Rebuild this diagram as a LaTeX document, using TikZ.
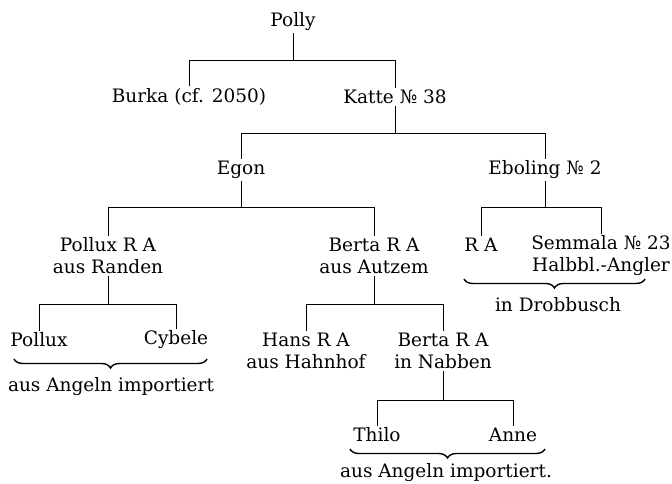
\documentclass[tikz,border=0pt]{standalone}
\usepackage{fontspec}
\setmainfont{DejaVu Serif}
\usetikzlibrary{decorations.pathreplacing}

\begin{document}
\begin{tikzpicture}[
    x=1pt, y=-1pt,
    every node/.style={font=\fontsize{18.5}{22}\selectfont, inner sep=2pt},
    dog/.style={align=center},
    note/.style={align=center},
    conn/.style={line width=0.8pt},
    brace/.style={decorate, decoration={brace, mirror, amplitude=9pt}, line width=1.4pt}
]
\useasboundingbox (0,0) rectangle (672,484);

% Bar heights of the families
\coordinate (bar1) at (0,60);
\coordinate (bar2) at (0,133);
\coordinate (bar3) at (0,207);
\coordinate (bar4) at (0,304);
\coordinate (bar5) at (0,400);

% Dogs
\node[dog] (polly) at (293,22) {Polly};
\node[dog] (burka) at (189,97) {Burka (cf. 2050)};
\node[dog] (katte) at (395,97) {Katte № 38};
\node[dog] (egon) at (241,170) {Egon};
\node[dog] (eboling) at (545,170) {Eboling № 2};
\node[dog] (polluxra) at (108,256) {Pollux R A\\aus Randen};
\node[dog] (bertaaut) at (374,256) {Berta R A\\aus Autzem};
\node[dog] (ra) at (481,245) {R A};
\node[dog] (semmala) at (601,256) {Semmala № 23\\Halbbl.-Angler};
\node[dog] (pollux) at (39,340) {Pollux};
\node[dog] (cybele) at (176,340) {Cybele};
\node[dog] (hans) at (306,351) {Hans R A\\aus Hahnhof};
\node[dog] (bertanab) at (443,351) {Berta R A\\in Nabben};
\node[dog] (thilo) at (377,435) {Thilo};
\node[dog] (anne) at (513,435) {Anne};

% Family lines
\draw[conn] (polly) -- (polly |- bar1);
\draw[conn] (burka) -- (burka |- bar1) -- (katte |- bar1) -- (katte);
\draw[conn] (katte) -- (katte |- bar2);
\draw[conn] (egon) -- (egon |- bar2) -- (eboling |- bar2) -- (eboling);
\draw[conn] (egon) -- (egon |- bar3);
\draw[conn] (polluxra) -- (polluxra |- bar3) -- (bertaaut |- bar3) -- (bertaaut);
\draw[conn] (eboling) -- (eboling |- bar3);
\draw[conn] (ra) -- (ra |- bar3) -- (semmala |- bar3) -- (semmala);
\draw[conn] (polluxra) -- (polluxra |- bar4);
\draw[conn] (pollux) -- (pollux |- bar4) -- (cybele |- bar4) -- (cybele);
\draw[conn] (bertaaut) -- (bertaaut |- bar4);
\draw[conn] (hans) -- (hans |- bar4) -- (bertanab |- bar4) -- (bertanab);
\draw[conn] (bertanab) -- (bertanab |- bar5);
\draw[conn] (thilo) -- (thilo |- bar5) -- (anne |- bar5) -- (anne);

% Braces with their notes
\draw[brace] (464,279) -- (645,279);
\node[note] (drobbusch) at (558,305) {in Drobbusch};
\draw[brace] (14,359) -- (207,359);
\node[note] (angeln) at (111,387) {aus Angeln importiert};
\draw[brace] (350,449) -- (545,449);
\node[note] (angelnb) at (446,473) {aus Angeln importiert.};
\end{tikzpicture}
\end{document}
